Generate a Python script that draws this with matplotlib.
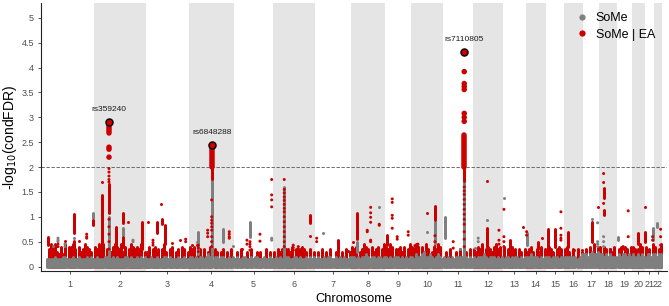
import matplotlib.pyplot as plt
from matplotlib.lines import Line2D
import numpy as np

plt.rcParams['font.family'] = ['Liberation Sans', 'DejaVu Sans']

RED = '#cd0000'
GREY = '#7f7f7f'

chrom_names = [str(c) for c in range(1, 23)]
# width of each chromosome block along the x axis
chrom_width = [48.6, 51.4, 43.3, 45.0, 39.3, 42.0, 36.0, 33.7, 26.3, 31.7, 30.0,
               30.0, 23.0, 19.7, 18.6, 18.4, 16.6, 17.4, 15.3, 13.0, 9.0, 8.3]

# the mass of SNPs near zero: top of the floor, one digit per step, digit * 0.05
grey_floor = ["333343334433343343334343", "34333444343433344343343434",
              "3343343334434333433433", "4434344345434434433434",
              "34334433434433343343", "343434443344343343434",
              "343343443343434334", "44343445434434434", "4343444343434",
              "4354456445434543", "434343444434343", "434445434443434",
              "344343443434", "4454443434", "443444344", "444444345",
              "55456556", "554545444", "45455454", "5445454", "45545", "5455"]
red_floor = ["079896585908897086798760", "87989078689879680798787906",
             "6807867079607806708706", "8780670706807606706070",
             "06070060700606007060", "607670776807678760706",
             "060706070067060706", "87806798708678079", "8798077868079",
             "8798086970687980", "060700607006070", "768790787689780",
             "807680707607", "6786076807", "787607870", "786070706",
             "07080908", "808707680", "07808708", "8707980", "80709", "8079"]

# dense runs of overlapping SNPs: (chromosome, offset, low, high)
grey_stacks = [(1, 47.8, 0.97, 1.07), (2, 14.7, 0.2, 1.0), (2, 29, 0.63, 0.77),
               (4, 9.3, 0.25, 0.7), (4, 22.7, 0.2, 1.74), (4, 34.3, 0.5, 0.75),
               (5, 16, 0.6, 0.9), (6, 11, 0.2, 1.6), (8, 5.4, 0.3, 0.5),
               (10, 23.7, 0.45, 0.9), (11, 2, 0.57, 1.0), (11, 21.3, 0.2, 1.7),
               (14, 0.7, 0.43, 0.67), (19, 1, 0.53, 0.6), (21, 7.7, 0.53, 0.77),
               (22, 3.3, 0.8, 0.87)]
red_stacks = [(1, 2.6, 0.44, 0.6), (1, 28.6, 0.67, 1.05), (1, 28.6, 0.38, 0.52),
              (1, 47.8, 0.83, 0.93), (2, 7.4, 0.36, 1.44), (2, 14.7, 2.68, 2.86),
              (2, 14.7, 1.07, 1.65), (2, 21.7, 0.4, 0.79), (2, 29, 0.87, 1.07),
              (2, 29, 0.4, 0.6), (2, 47.4, 0.35, 0.9), (3, 11.6, 0.67, 0.9),
              (3, 16.3, 0.85, 0.95), (3, 19.3, 0.45, 0.83), (4, 22.7, 2.0, 2.42),
              (4, 22.7, 1.77, 2.0), (6, 36.7, 0.88, 1.03), (7, 23, 0.33, 0.53),
              (8, 5.4, 0.56, 1.07), (9, 1.7, 0.43, 0.63), (10, 23.7, 0.93, 1.22),
              (11, 21.3, 2.0, 2.64), (11, 21.3, 1.72, 2.0), (12, 13.7, 0.4, 0.77),
              (13, 7, 0.3, 0.53), (14, 12.3, 0.35, 0.5), (15, 2, 0.36, 0.75),
              (15, 9.3, 0.4, 0.75), (16, 3.4, 0.4, 0.7), (17, 9.6, 0.5, 0.9),
              (18, 4.4, 1.37, 1.58), (18, 4.4, 1.04, 1.14), (20, 5.7, 0.45, 0.67),
              (21, 0.3, 0.5, 0.7)]

# single SNPs: (chromosome, offset, values)
grey_points = [(1, 7.3, [0.41]), (1, 12.3, [0.57, 0.53, 0.5]), (1, 19.3, [0.45, 0.4]),
               (1, 28.6, [0.57]), (2, 38.7, [0.53, 0.5]), (4, 7.7, [0.5]),
               (4, 44.3, [0.41]), (5, 37.7, [0.57, 0.53]), (7, 8, [0.67]),
               (8, 28, [1.19]), (10, 15.4, [0.7]), (11, 17, [0.36]), (12, 2, [0.38]),
               (12, 5.3, [0.57, 0.5]), (12, 13.7, [0.93]), (13, 1, [1.37]),
               (17, 9.6, [0.95]), (17, 15, [0.88, 0.5, 0.45, 0.4]),
               (18, 4.4, [0.6, 0.5, 0.4])]
red_points = [(1, 12.3, [0.45, 0.4]), (1, 19.3, [0.51]), (1, 33.3, [0.51]),
              (1, 41, [0.65, 0.6, 0.57]), (2, 7.4, [1.69]),
              (2, 14.7, [2.4, 2.36, 2.2, 1.97, 1.9, 1.82, 1.75, 1.7, 0.95, 0.8, 0.65, 0.5, 0.35]),
              (2, 33.7, [0.9]), (3, 2.6, [0.9]), (3, 7.3, [0.53, 0.48, 0.43]),
              (3, 15, [1.25]), (3, 26, [0.48]), (3, 34.3, [0.53]), (3, 40, [0.55, 0.5]),
              (4, 2.7, [0.43]), (4, 7.7, [0.43]), (4, 9.3, [0.43, 0.37, 0.3]),
              (4, 18.7, [0.73, 0.67, 0.6]),
              (4, 22.7, [1.34, 1.0, 0.93, 0.87, 0.8, 0.73, 0.6, 0.5, 0.4]),
              (4, 40.3, [0.7, 0.65, 0.6, 0.57]), (5, 7.7, [0.36]), (5, 13, [0.53, 0.45]),
              (5, 16, [0.5, 0.45, 0.4, 0.33]), (5, 26, [0.65, 0.51]),
              (5, 37.7, [1.75, 1.44, 1.34, 1.2]),
              (6, 11, [1.75, 1.55, 1.48, 1.4, 1.33, 1.25, 1.17, 1.1, 1.0, 0.9, 0.8, 0.7, 0.6, 0.5, 0.4]),
              (6, 20, [0.43, 0.38, 0.33]), (6, 25, [0.4, 0.35, 0.3]), (6, 36.7, [0.61]),
              (7, 1.4, [0.57, 0.5]), (7, 32.7, [0.31]), (8, 1.7, [0.5]), (8, 16, [0.73, 0.7]),
              (8, 19.4, [1.19, 1.08, 0.99, 0.89, 0.53, 0.5]), (8, 28, [0.85, 0.83]),
              (9, 7.3, [1.36, 1.29, 1.03, 0.97, 0.77]), (9, 12.3, [0.6, 0.55]),
              (9, 23.3, [0.7, 0.63]), (10, 3.7, [0.42, 0.36]), (10, 6.7, [0.45, 0.4, 0.35]),
              (10, 15.4, [1.08]), (10, 23.7, [0.62, 0.5, 0.4]), (11, 10.3, [0.5, 0.37]),
              (11, 21.3, [3.92, 3.68, 3.62, 3.56, 3.08, 3.0, 2.92, 1.6, 1.52, 1.45, 1.35,
                          1.25, 1.15, 1.05, 0.95, 0.85, 0.7, 0.55, 0.4]),
              (11, 27, [0.3]), (12, 13.7, [1.72]), (12, 26, [0.73, 0.53, 0.45]),
              (13, 1, [1.15, 0.6, 0.5, 0.4]), (13, 20.3, [0.79]), (14, 0.7, [0.7, 0.63]),
              (14, 15.7, [0.57]), (15, 15.3, [1.1, 0.77, 0.63, 0.57, 0.53]),
              (16, 10, [0.33]), (16, 17.7, [0.33]), (17, 15, [1.19]),
              (18, 4.4, [1.87, 1.69, 1.27]), (18, 10.7, [0.36]), (19, 6.6, [0.4, 0.35]),
              (19, 11.6, [1.12, 0.6]), (21, 0.3, [1.2]), (21, 7.7, [0.6, 0.53]),
              (22, 6.7, [0.75, 0.6, 0.43])]

# lead SNPs: (chromosome, offset, value, label)
lead_snps = [(2, 14.7, 2.90, 'rs359240'), (4, 22.7, 2.45, 'rs6848288'),
             (11, 21.3, 4.31, 'rs7110805')]

threshold = 2

starts = np.concatenate([[0], np.cumsum(chrom_width)[:-1]])
centers = starts + np.array(chrom_width) / 2
total = sum(chrom_width)

SMALL_LW = 2.16   # 3 px dots
BIG_LW = 3.96     # 5.5 px dots

fig = plt.figure(figsize=(6.69, 3.06), dpi=100)
ax = fig.add_axes([41 / 669, 35 / 306, 625.5 / 669, 268 / 306])

# alternate chromosome shading
for i in range(1, 22, 2):
    ax.axvspan(starts[i], starts[i] + chrom_width[i], color='#e5e5e5', lw=0, zorder=0)


def floor_xy(i, s):
    n = len(s)
    xs = starts[i] + (np.arange(n) + 0.5) / n * chrom_width[i]
    vals = np.array([int(c) * 0.05 for c in s])
    keep = vals > 0
    return xs[keep], vals[keep]


for i in range(22):
    x, v = floor_xy(i, red_floor[i])
    ax.vlines(x, 0, v, color=RED, lw=SMALL_LW, capstyle='round', zorder=2)
for i in range(22):
    x, v = floor_xy(i, grey_floor[i])
    ax.vlines(x, 0, v, color=GREY, lw=SMALL_LW, capstyle='round', zorder=3)


def draw_stacks(stacks, color, z):
    for ch, off, lo, hi in stacks:
        lw = BIG_LW if lo >= threshold else SMALL_LW
        ax.vlines(starts[ch - 1] + off, lo, hi, color=color, lw=lw,
                  capstyle='round', zorder=z)


def draw_points(points, color, z):
    for ch, off, vals in points:
        vals = np.array(vals)
        sizes = np.where(vals >= threshold, BIG_LW ** 2, SMALL_LW ** 2)
        ax.scatter(np.full(len(vals), starts[ch - 1] + off), vals, s=sizes,
                   color=color, linewidths=0, zorder=z)


draw_stacks(grey_stacks, GREY, 4)
draw_points(grey_points, GREY, 4)
draw_stacks(red_stacks, RED, 5)
draw_points(red_points, RED, 5)

for ch, off, val, label in lead_snps:
    x = starts[ch - 1] + off
    ax.scatter([x], [val], s=26, color=RED, edgecolors='black', linewidths=1.0, zorder=6)
    ax.annotate(label, (x, val), xytext=(0, 6.5), textcoords='offset points',
                ha='center', va='bottom', fontsize=6, color='#1a1a1a')

ax.axhline(threshold, color='#555555', lw=0.6, ls=(0, (4, 2)), zorder=1)

ax.set_xlim(-4.7, total + 4.3)
ax.set_ylim(-0.09, 5.3)
ax.set_xticks(centers)
ax.set_xticklabels(chrom_names)
yt = np.arange(0, 5.01, 0.5)
ax.set_yticks(yt)
ax.set_yticklabels([f'{v:g}' for v in yt])
ax.tick_params(length=2.5, width=0.6, color='#333333', labelcolor='#4d4d4d',
               labelsize=6.5, pad=2.5)
ax.tick_params(axis='x', pad=4)
for side in ['top', 'right']:
    ax.spines[side].set_visible(False)
for side in ['left', 'bottom']:
    ax.spines[side].set_color('#222222')
    ax.spines[side].set_linewidth(0.8)

ax.set_xlabel('Chromosome', fontsize=9.3, labelpad=3)
ax.set_ylabel('-log$_{10}$(condFDR)', fontsize=10, labelpad=2)

handles = [Line2D([], [], ls='', marker='o', ms=4.5, color=GREY, mec='none'),
           Line2D([], [], ls='', marker='o', ms=4.5, color=RED, mec='none')]
ax.legend(handles, ['SoMe', 'SoMe | EA'], loc='upper left',
          bbox_to_anchor=(0.855, 0.965), frameon=False, fontsize=9,
          handlelength=1, handletextpad=0.6, labelspacing=0.35, borderpad=0,
          borderaxespad=0)

fig.savefig('out.png', dpi=100)
